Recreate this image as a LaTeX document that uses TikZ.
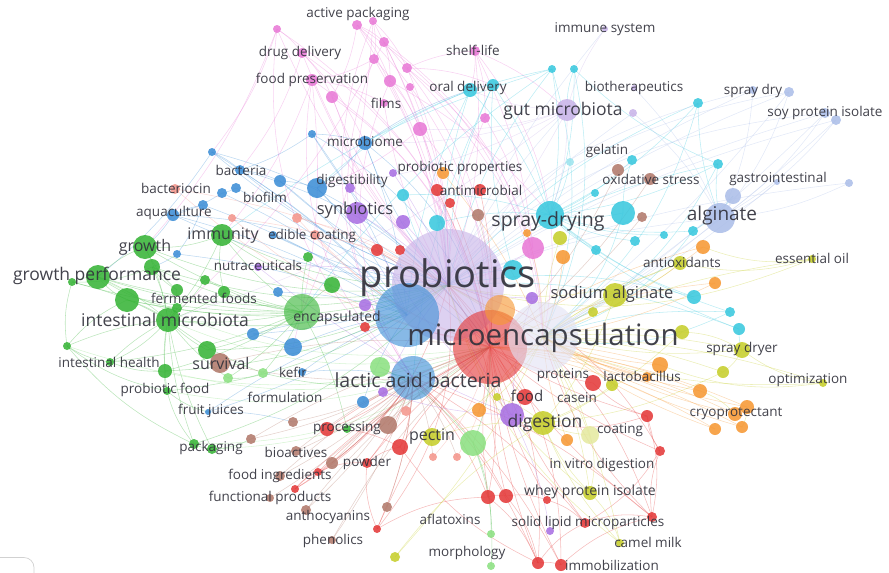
\documentclass[tikz,border=0pt]{standalone}
\usepackage{fontspec}
\setmainfont{Open Sans}
\usetikzlibrary{backgrounds}

\definecolor{pinkc}{RGB}{232,122,214}
\definecolor{cyanc}{RGB}{58,200,222}
\definecolor{lavc}{RGB}{200,180,232}
\definecolor{palec}{RGB}{226,226,244}
\definecolor{palebc}{RGB}{172,190,232}
\definecolor{bluec}{RGB}{62,142,214}
\definecolor{greenc}{RGB}{56,180,56}
\definecolor{lgreenc}{RGB}{140,224,130}
\definecolor{redc}{RGB}{228,58,58}
\definecolor{salmc}{RGB}{244,150,140}
\definecolor{brownc}{RGB}{178,122,108}
\definecolor{purpc}{RGB}{168,112,226}
\definecolor{orangc}{RGB}{246,152,52}
\definecolor{yellc}{RGB}{198,206,44}
\definecolor{txtc}{RGB}{50,50,60}

\tikzset{
	kw/.style={circle,inner sep=0pt,fill=#1,fill opacity=0.88},
	hub/.style={circle,inner sep=0pt,fill=#1,fill opacity=0.62},
	lbl/.style={inner sep=0pt,text=txtc,text opacity=0.92},
	lnk/.style={draw=#1,line width=0.55pt,draw opacity=0.34},
}

\begin{document}
\begin{tikzpicture}[x=1pt,y=-1pt]
	\useasboundingbox (0,0) rectangle (889,573);
	\clip (0,0) rectangle (889,573);
	% large bubbles
	\foreach \n/\x/\y/\r/\c in {pro/448/285/56/lavc, blu/407/315/32/bluec, mic/490/347/37/redc,
		mio/500/310/15/orangc, mip/543/337/35/palec, lab/413/378/22/bluec, enc/302/312/18/greenc}{
		\node[hub=\c, minimum size=2*\r pt] (\n) at (\x,\y) {};
	}
	% small bubbles
	\foreach \n/\x/\y/\r/\c in {
		a1/357/25/5/pinkc, a2/373/21/4/pinkc, a3/277/29/4/pinkc, a4/384/42/5/pinkc, a5/374/59/5/pinkc,
		a6/302/53/5/pinkc, a7/407/68/5/pinkc, a8/410/87/4/pinkc, a9/390/81/6/pinkc, a10/312/80/6/pinkc,
		a11/332/97/6/pinkc, a12/420/129/7/pinkc, a13/485/118/5/pinkc, a14/475/51/5/pinkc, a15/384/103/4/pinkc,
		a16/533/248/11/pinkc,
		c1/552/69/4/cyanc, c2/574/69/4/cyanc, c3/470/90/7/cyanc, c4/493/85/6/cyanc, c5/698/103/5/cyanc,
		c6/632/160/5/cyanc, c7/718/164/5/cyanc, c8/550/215/14/cyanc, c9/623/213/12/cyanc, c10/595/193/4/cyanc,
		c11/635/241/5/cyanc, c12/664/235/4/cyanc, c13/693/231/5/cyanc, c14/596/250/5/cyanc, c15/694/297/7/cyanc,
		c16/730/312/5/cyanc, c17/739/329/6/cyanc, c18/513/270/10/cyanc, c19/437/223/8/cyanc, c20/403/195/6/cyanc,
		c21/570/162/4/cyanc!50,
		l1/567/110/11/lavc, l2/633/113/4/lavc, l3/605/29/3/lavc, l4/634/88/3/lavc,
		b1/789/92/5/palebc, b2/753/90/4/palebc, b3/825/113/5/palebc, b4/836/120/5/palebc, b5/733/196/8/palebc,
		b6/720/218/15/palebc, b7/849/183/4/palebc, b8/777/182/3/palebc,
		u1/212/152/4/bluec, u2/240/170/5/bluec, u3/236/188/5/bluec, u4/222/193/5/bluec, u5/280/181/6/bluec,
		u6/173/215/6/bluec, u7/203/205/5/bluec, u8/177/254/4/bluec, u9/312/134/4/bluec, u10/365/143/7/bluec,
		u11/317/188/10/bluec, u13/273/235/4/bluec, u17/293/347/9/bluec, u18/253/334/6/bluec, u19/278/292/5/bluec,
		u20/363/402/6/bluec, u21/302/372/4/bluec, u22/208/412/3/bluec,
		g1/145/247/12/greenc, g2/222/235/11/greenc, g3/98/277/12/greenc, g4/127/300/12/greenc, g5/168/320/12/greenc,
		g6/152/267/8/greenc, g7/205/280/5/greenc, g8/177/290/6/greenc, g9/224/292/6/greenc, g10/177/308/5/greenc,
		g11/72/282/4/greenc, g12/67/346/4/greenc, g13/110/362/4/greenc, g14/207/350/9/greenc, g15/165/371/7/greenc,
		g17/167/391/4/greenc, g20/194/444/5/greenc, g21/212/449/5/greenc, g22/332/285/8/greenc, g23/308/257/5/greenc,
		g24/347/429/4/greenc, g18/228/378/5/lgreenc, g19/263/373/5/lgreenc, g25/473/443/13/lgreenc,
		g26/380/367/10/lgreenc, g27/491/534/4/lgreenc, g28/491/566/4/lgreenc,
		br1/220/363/10/brownc, br2/293/422/5/brownc, br3/251/439/5/brownc, br4/296/451/5/brownc, br5/280/476/5/brownc,
		br6/270/498/4/brownc, br7/388/425/9/brownc, br8/332/463/6/brownc, br10/306/510/5/brownc, br11/387/507/5/brownc,
		br12/332/540/4/brownc, br13/618/170/6/brownc, br14/650/179/6/brownc, br15/642/217/5/brownc, br16/478/215/6/brownc,
		r1/437/190/6/redc, r2/480/190/6/redc, r3/450/203/5/redc, r4/377/250/6/redc, r5/400/250/5/redc,
		r6/327/429/7/redc, r7/400/447/8/redc, r8/367/463/5/redc, r9/318/472/4/redc, r10/295/489/4/redc,
		r11/377/529/4/redc, r12/488/497/7/redc, r13/506/496/7/redc, r14/547/500/4/redc, r15/585/523/5/redc,
		r16/538/563/6/redc, r17/561/565/6/redc, r18/647/416/6/redc, r19/660/451/5/redc, r20/652/517/5/redc,
		r21/593/383/8/redc, r22/525/397/8/redc, r23/365/327/5/redc,
		s1/175/189/5/salmc, s2/232/218/4/salmc, s3/297/218/5/salmc, s4/315/235/5/salmc, s5/433/457/4/salmc,
		s6/457/457/4/salmc, s7/406/411/5/salmc,
		pu1/357/213/11/purpc, pu2/403/222/7/purpc, pu3/350/188/5/purpc, pu4/393/173/4/purpc, pu6/258/267/4/purpc,
		pu7/365/305/6/purpc, pu8/512/415/12/purpc, pu9/383/392/5/purpc, pu10/550/531/4/purpc, pu12/532/298/6/purpc,
		o1/443/173/6/orangc, o2/527/233/4/orangc, o3/563/257/7/orangc, o5/703/247/7/orangc, o6/715/283/6/orangc,
		o8/660/365/8/orangc, o10/700/391/7/orangc, o11/747/407/7/orangc, o12/735/414/7/orangc, o13/715/429/6/orangc,
		o14/742/427/6/orangc, o15/479/410/7/orangc, o16/647/377/5/orangc, o17/567/440/6/orangc,
		y1/615/295/12/yellc, y2/680/263/7/yellc, y3/682/332/7/yellc, y4/742/350/8/yellc, y5/723/372/6/yellc,
		y7/812/259/4/yellc, y8/823/383/4/yellc, y9/593/312/5/yellc, y10/543/423/12/yellc, y11/560/238/7/yellc,
		y12/432/437/9/yellc, y13/590/435/9/yellc!45, y14/590/493/7/yellc, y15/395/557/5/yellc, y16/620/543/4/yellc,
		y17/612/385/6/yellc, y20/497/397/4/yellc}{
		\node[kw=\c, minimum size=2*\r pt] (\n) at (\x,\y) {};
	}
	\begin{scope}[on background layer]
		% pink links
		\foreach \n in {a1,a2,a4,a5,a7,a9,a12,a14,a16,a8}
			\draw[lnk=pinkc] (\n.center) to[bend left=12] (pro.center);
		\foreach \n in {a3,a6,a10,a11,a15,a13}
			\draw[lnk=pinkc] (\n.center) to[bend right=10] (pro.center);
		\foreach \n in {a1,a4,a6,a10,a11,a12,a3}
			\draw[lnk=pinkc] (\n.center) to[bend left=22] (mic.center);
		\foreach \n in {a2,a5,a9,a3,a10}
			\draw[lnk=pinkc] (\n.center) to[bend right=28] (lab.center);
		\foreach \n in {a1,a4,a7,a14}
			\draw[lnk=pinkc] (\n.center) to[bend left=25] (mip.center);
		\foreach \a/\b in {a1/a4,a2/a7,a4/a9,a5/a10,a3/a6,a6/a11,a9/a12,a7/a14,a14/a13,a10/a15,a1/a11,a2/a5,
			a14/c3,a12/u11,a3/u1,a6/u10,a10/g2,a11/pu1,a9/c8,a7/a16,a14/a16,a1/a9,a5/a12,a3/g1,a6/u2,a13/a16,
			a2/enc,a4/g5,a10/u17,a14/l1,a7/c4}
			\draw[lnk=pinkc] (\a.center) to[bend left=10] (\b.center);
		% cyan links
		\foreach \n in {c1,c2,c3,c4,c5,c6,c7,c9,c10,c11,c12,c13,c14,c15,c16,c17,c19,c20,c21}
			\draw[lnk=cyanc] (\n.center) to[bend left=10] (c8.center);
		\foreach \n in {c1,c3,c5,c7,c15,c17,c18,c19,c20,c4}
			\draw[lnk=cyanc] (\n.center) to[bend right=12] (pro.center);
		\foreach \n in {c1,c2,c5,c7,c9,c13,c16}
			\draw[lnk=cyanc] (\n.center) to[bend left=18] (mip.center);
		\foreach \a/\b in {c1/u10,c2/l1,c5/b6,c7/b6,c3/u11,c4/c18,c17/y4,c16/mip,c13/b5,c6/c9,c1/g2,c2/c7,
			c3/blu,c4/lab,c1/enc}
			\draw[lnk=cyanc] (\a.center) to[bend right=10] (\b.center);
		% pale blue links
		\foreach \n in {b1,b2,b3,b4,b5,b7,b8,l2,l4}
			\draw[lnk=palebc] (\n.center) to[bend left=10] (b6.center);
		\foreach \n in {b1,b3,b4,b6,l1,l2,l3,b7,b2}
			\draw[lnk=palebc] (\n.center) to[bend right=8] (pro.center);
		\foreach \n in {b3,b6,b5,b1,b4,b8}
			\draw[lnk=palebc] (\n.center) to[bend left=6] (mip.center);
		\foreach \n in {b1,b3,b2}
			\draw[lnk=palebc] (\n.center) to[bend right=20] (blu.center);
		\foreach \n in {c3,c8,u10,a12,g5,u11,l3,blu}
			\draw[lnk=lavc] (l1.center) to[bend left=10] (\n.center);
		% blue links
		\foreach \n in {u1,u2,u3,u4,u5,u6,u7,u8,u9,u10,u11,u13,u17,u18,u19,u20,u21,u22}
			\draw[lnk=bluec] (\n.center) to[bend left=8] (blu.center);
		\foreach \n in {u1,u2,u5,u6,u9,u10,u11,u13,u18,u22}
			\draw[lnk=bluec] (\n.center) to[bend right=10] (pro.center);
		\foreach \n in {u1,u6,u9,u10,u2}
			\draw[lnk=bluec] (\n.center) to[bend left=20] (mic.center);
		\foreach \a/\b in {u1/u2,u2/u5,u3/u4,u4/u6,u6/u7,u7/u8,u5/u11,u9/u10,u10/u11,u6/g1,u8/g6,u22/br2,u18/u17,u21/lab,
			u1/g3,u9/u2,u10/c3}
			\draw[lnk=bluec] (\a.center) to[bend left=8] (\b.center);
		% green links
		\foreach \n in {g1,g2,g3,g4,g6,g7,g8,g9,g10,g11,g12,g13,g14,g15,g17,g20,g21,g18,g19}
			\draw[lnk=greenc] (\n.center) to[bend left=8] (g5.center);
		\foreach \n in {g1,g2,g3,g4,g5,g6,g7,g9,g14,g15,g22,g23,g18,g19,g24,g11,g13}
			\draw[lnk=greenc] (\n.center) to[bend right=8] (enc.center);
		\foreach \n in {g1,g2,g3,g5,g14,g15,g17,g20,g4,g6}
			\draw[lnk=greenc] (\n.center) to[bend right=14] (pro.center);
		\foreach \n in {g3,g5,g12,g15,g17,g20,g21}
			\draw[lnk=lgreenc] (\n.center) to[bend right=18] (mic.center);
		\foreach \a/\b in {g1/g3,g3/g4,g3/g11,g4/g12,g12/g13,g13/g15,g15/g17,g17/g20,g20/g21,g1/g2,g2/g9,g6/g8,
			g12/g20,g11/g12,g17/u22,g21/br3,g25/g26,g25/mic,g26/lab,g27/g25,g28/g25,g19/lab,g18/g19,
			g11/g6,g3/g10,g1/g8,g2/g22,g12/g17,g13/g5}
			\draw[lnk=greenc] (\a.center) to[bend right=12] (\b.center);
		% red and brown links
		\foreach \n in {r1,r2,r3,r4,r5,r6,r7,r8,r9,r10,r11,r12,r13,r14,r15,r16,r17,r18,r19,r20,r21,r22,r23}
			\draw[lnk=redc] (\n.center) to[bend left=8] (mic.center);
		\foreach \n in {r6,r7,r8,r9,r10,r11,r12,r13,r16,r17,r20,r15}
			\draw[lnk=redc] (\n.center) to[bend right=10] (lab.center);
		\foreach \n in {r11,r12,r16,r17,r19,r20,r10}
			\draw[lnk=redc] (\n.center) to[bend right=22] (pro.center);
		\foreach \a/\b in {r12/r13,r13/r14,r14/r15,r15/r20,r20/r19,r19/r18,r18/r21,r16/r17,r17/r20,r12/r16,
			r10/r9,r9/r8,r8/r7,r6/r7,r11/r8,r16/r15,r18/r20,r19/r15,r13/r16,r11/r12,r16/r7,r20/mip,r18/y10}
			\draw[lnk=redc] (\a.center) to[bend left=14] (\b.center);
		\foreach \n in {br1,br2,br3,br4,br5,br6,br7,br8,br10,br11,br12,s5,s6,s7}
			\draw[lnk=brownc] (\n.center) to[bend right=8] (lab.center);
		\foreach \n in {br1,br4,br5,br7,br8,br13,br14,br15,br16,br10,br12,br3}
			\draw[lnk=brownc] (\n.center) to[bend left=10] (mic.center);
		\foreach \n in {s1,s2,s3,s4}
			\draw[lnk=salmc] (\n.center) to[bend left=10] (pro.center);
		\foreach \n in {s1,s2,s3,s4,s5,s6}
			\draw[lnk=salmc] (\n.center) to[bend right=14] (mic.center);
		% purple links
		\foreach \n in {pu1,pu2,pu3,pu4,pu6,pu7,pu9,pu12,pu8}
			\draw[lnk=purpc] (\n.center) to[bend left=8] (pro.center);
		\foreach \n in {pu10,pu9,pu12,y10,r22,pu1,pu6}
			\draw[lnk=purpc] (\n.center) to[bend right=8] (pu8.center);
		% orange and yellow links
		\foreach \n in {o1,o2,o3,o5,o6,o8,o10,o11,o12,o13,o14,o15,o16,o17}
			\draw[lnk=orangc] (\n.center) to[bend left=8] (mip.center);
		\foreach \n in {o8,o10,o11,o12,o13,o14,o16,o5,o6}
			\draw[lnk=orangc] (\n.center) to[bend right=10] (mic.center);
		\foreach \n in {y1,y2,y3,y4,y5,y7,y8,y9,y11,y12,y13,y14,y15,y16,y17,y20}
			\draw[lnk=yellc] (\n.center) to[bend right=8] (mip.center);
		\foreach \n in {y14,y15,y16,y13,y12,y17,y20,y1,y3,y5}
			\draw[lnk=yellc] (\n.center) to[bend left=10] (y10.center);
		\foreach \n in {y2,y4,y7,y8,y14,y16}
			\draw[lnk=yellc] (\n.center) to[bend left=18] (pro.center);
		\foreach \a/\b in {y7/y2,y8/o8,y2/y1,y3/y4,y4/y5,o11/o14,o10/o12,y14/y16,y13/y14,y7/o5,y8/y4}
			\draw[lnk=yellc] (\a.center) to[bend left=14] (\b.center);
	\end{scope}
	% labels
	\foreach \n/\x/\y/\s/\lab in {
		actpack/358/14/13.5/active packaging, drugdel/300/53/13.5/drug delivery,
		foodpres/312/80/13.5/food preservation, films/386/103/13.5/films,
		shelf/473/50/13.5/shelf-life, oraldel/468/88/13.5/oral delivery,
		immsys/605/29/13.5/immune system, biother/634/88/13.5/biotherapeutics,
		gutmic/563/111/17.5/gut microbiota, spraydry/753/91/13.5/spray dry,
		soyprot/825/113/13.5/soy protein isolate, microbiome/365/141/13.5/microbiome,
		bacteria/241/170/13.5/bacteria, bacteriocin/176/188/13.5/bacteriocin,
		biofilm/265/197/13.5/biofilm, digestib/352/181/13.5/digestibility,
		probprop/460/168/13.5/probiotic properties, antimic/481/190/13.5/antimicrobial,
		gelatin/607/151/13.5/gelatin, oxstress/651/179/13.5/oxidative stress,
		gastro/778/179/13.5/gastrointestinal, aquacult/174/213/13.5/aquaculture,
		synbio/355/210/16.5/synbiotics, spraydrying/548/221/19.5/spray-drying,
		alginate/722/216/19/alginate, immunity/223/236/16/immunity,
		edible/312/236/13.5/edible coating, growth/145/247/16/growth,
		nutraceut/258/265/13.5/nutraceuticals, antiox/682/262/13.5/antioxidants,
		essoil/812/258/13.5/essential oil, growthperf/97/276/17.5/growth performance,
		probiotics/448/278/38/probiotics, fermfood/204/298/13.5/fermented foods,
		sodalg/612/294/16.5/sodium alginate, encaps/337/318/14/encapsulated,
		intmic/165/320/17.5/intestinal microbiota, microenc/543/338/29.5/microencapsulation,
		inthealth/109/362/13.5/intestinal health, survival/221/363/16/survival,
		kefir/293/372/13.5/kefir, spraydryer/742/349/13.5/spray dryer,
		lacticab/418/380/19.5/lactic acid bacteria, proteins/563/375/13.5/proteins,
		lactob/642/376/13.5/lactobacillus, optim/808/380/13.5/optimization,
		probfood/165/390/13.5/probiotic food, food/527/396/15/food,
		casein/577/398/13.5/casein, fruitj/211/411/13.5/fruit juices,
		formul/285/397/13.5/formulation, cryoprot/736/414/13.5/cryoprotectant,
		processing/347/428/13.5/processing, pectin/432/437/16/pectin,
		digestion/545/423/17.5/digestion, coating/620/430/13.5/coating,
		packaging/211/448/13.5/packaging, bioactives/296/452/13.5/bioactives,
		powder/367/463/13.5/powder, invitro/602/465/13.5/in vitro digestion,
		foodingr/280/476/13.5/food ingredients, whey/590/492/14/whey protein isolate,
		funcprod/270/498/13.5/functional products, anthocy/328/517/13.5/anthocyanins,
		aflatox/450/519/13.5/aflatoxins, solidlip/588/523/13.5/solid lipid microparticles,
		camelmilk/648/542/13.5/camel milk, phenolics/333/541/13.5/phenolics,
		morphology/467/553/13.5/morphology, immobil/612/565/13.5/immobilization}{
		\node[lbl, font=\fontsize{\s}{\s}\selectfont] (l\n) at (\x,\y) {\lab};
	}
	% corner of the zoom box
	\draw[black!18, line width=0.7pt] (0,557.5) -- (24,557.5) arc (270:360:10) -- (34,573);
\end{tikzpicture}
\end{document}
